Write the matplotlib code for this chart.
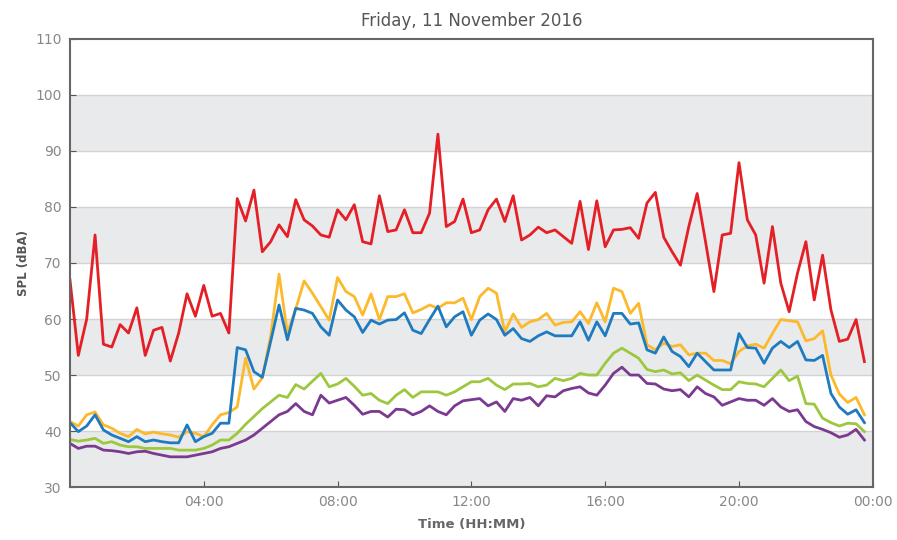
import numpy as np
import matplotlib
matplotlib.use("Agg")
import matplotlib.pyplot as plt

# 15-minute samples, 00:00 .. 23:45
hours = np.arange(96) * 0.25

red = [67, 53.5, 60, 75, 55.5, 55, 59, 57.5, 62, 53.5,
       58, 58.5, 52.5, 57.5, 64.5, 60.5, 66, 60.5, 61, 57.5,
       81.5, 77.5, 83, 72, 73.8, 76.8, 74.7, 81.3, 77.7, 76.6,
       75, 74.6, 79.5, 77.7, 80.4, 73.8, 73.4, 82, 75.6, 75.9,
       79.5, 75.4, 75.4, 78.9, 93, 76.5, 77.4, 81.4, 75.4, 75.9,
       79.5, 81.4, 77.4, 82, 74.1, 75, 76.4, 75.4, 75.9, 74.7,
       73.5, 81, 72.4, 81.1, 72.9, 75.9, 76, 76.3, 74.4, 80.7,
       82.6, 74.6, 72, 69.6, 76.5, 82.4, 73.8, 64.9, 75, 75.3,
       87.9, 77.7, 75, 66.4, 76.5, 66.4, 61.3, 68.2, 73.8, 63.4,
       71.4, 61.6, 56, 56.4, 59.9, 52.4]

yellow = [41.7, 40.9, 42.9, 43.4, 41.1, 40.5, 39.6, 39, 40.3, 39.5,
          39.8, 39.5, 39.3, 38.9, 39.9, 39.6, 39, 41.1, 42.9, 43.3,
          44.3, 53, 47.5, 49.5, 57, 68, 57.5, 61.8, 66.8, 64.6,
          62.2, 59.8, 67.4, 64.9, 64, 60.7, 64.5, 59.9, 64, 64,
          64.5, 61.1, 61.7, 62.5, 61.9, 62.9, 62.9, 63.7, 59.9, 64,
          65.5, 64.6, 57.7, 60.9, 58.5, 59.5, 59.9, 61, 58.9, 59.4,
          59.5, 61.3, 59.2, 62.9, 59.5, 65.5, 64.9, 61, 62.8, 55.4,
          54.5, 55.7, 55.1, 55.4, 53.6, 53.9, 53.9, 52.6, 52.6, 52,
          54.2, 55.2, 55.5, 54.8, 57.4, 59.9, 59.7, 59.5, 56.1, 56.5,
          57.9, 50, 46.6, 45.1, 46, 42.9]

blue = [41.5, 39.9, 40.9, 42.9, 40.2, 39.3, 38.7, 38.1, 39, 38.1,
        38.4, 38.1, 37.9, 37.9, 41.1, 38.1, 39, 39.6, 41.4, 41.4,
        54.9, 54.5, 50.6, 49.6, 56, 62.5, 56.3, 61.9, 61.6, 61,
        58.6, 57.1, 63.4, 61.6, 60.4, 57.6, 59.8, 59.1, 59.8, 59.9,
        61.1, 58, 57.4, 59.9, 62.3, 58.6, 60.4, 61.3, 57.1, 59.8,
        60.9, 59.9, 57.1, 58.3, 56.5, 56, 57, 57.7, 57, 57,
        57, 59.5, 56.2, 59.5, 57, 61, 61, 59.1, 59.3, 54.5,
        53.9, 56.8, 54.2, 53.3, 51.5, 53.9, 52.4, 50.9, 50.9, 50.9,
        57.4, 54.9, 54.8, 52.1, 54.8, 56, 54.9, 56, 52.7, 52.6,
        53.5, 46.7, 44.3, 43, 43.8, 41.5]

green = [38.5, 38.2, 38.4, 38.7, 37.8, 38.1, 37.5, 37.2, 37.2, 36.9,
         36.9, 36.9, 36.9, 36.6, 36.6, 36.6, 36.9, 37.5, 38.4, 38.4,
         39.6, 41.2, 42.6, 44, 45.2, 46.4, 46, 48.3, 47.5, 48.9,
         50.3, 47.9, 48.4, 49.4, 48, 46.4, 46.7, 45.5, 44.9, 46.4,
         47.4, 46, 47, 47, 47, 46.4, 47, 47.9, 48.8, 48.8,
         49.4, 48.2, 47.4, 48.4, 48.4, 48.5, 47.9, 48.2, 49.4, 49,
         49.4, 50.3, 50, 50, 52.1, 53.9, 54.8, 53.9, 53, 51,
         50.6, 50.9, 50.2, 50.4, 49, 50, 49.1, 48.2, 47.4, 47.4,
         48.8, 48.5, 48.4, 47.9, 49.4, 50.9, 49, 49.8, 44.9, 44.8,
         42.3, 41.5, 40.9, 41.4, 41.3, 39.9]

purple = [37.8, 36.9, 37.3, 37.3, 36.6, 36.5, 36.3, 36, 36.3, 36.4,
          36, 35.7, 35.4, 35.4, 35.4, 35.7, 36, 36.3, 36.9, 37.2,
          37.8, 38.4, 39.3, 40.5, 41.7, 42.9, 43.5, 44.9, 43.5, 42.9,
          46.4, 45, 45.5, 46, 44.6, 43, 43.5, 43.5, 42.5, 43.9,
          43.8, 42.9, 43.5, 44.5, 43.5, 42.9, 44.5, 45.4, 45.6, 45.8,
          44.5, 45.2, 43.5, 45.8, 45.5, 46, 44.5, 46.3, 46.1, 47.2,
          47.6, 47.9, 46.8, 46.4, 48.2, 50.3, 51.4, 50, 50, 48.5,
          48.4, 47.5, 47.2, 47.4, 46.1, 47.9, 46.7, 46.1, 44.6, 45.2,
          45.8, 45.5, 45.5, 44.6, 45.8, 44.3, 43.5, 43.8, 41.7, 40.8,
          40.3, 39.7, 38.9, 39.3, 40.3, 38.4]

xticks = [4, 8, 12, 16, 20, 24]
xticklabels = ["04:00", "08:00", "12:00", "16:00", "20:00", "00:00"]
yticks = [30, 40, 50, 60, 70, 80, 90, 100, 110]

fig = plt.figure(figsize=(8.97, 5.40), dpi=100)
ax = fig.add_axes([0.078, 0.098, 0.895, 0.830])

# alternating grey bands
for lo in yticks[:-1:2]:
    ax.axhspan(lo, lo + 10, color="#e9eaec", zorder=0, lw=0)
for y in yticks[1:-1]:
    ax.axhline(y, color="#d2d3d5", lw=1, zorder=0.5)

series = [(red, "#e41f26"), (yellow, "#fdb92c"), (blue, "#1f7bbf"),
          (green, "#9dc83e"), (purple, "#7b3a8f")]
for vals, col in series:
    ax.plot(hours, vals, color=col, lw=2, zorder=2)

ax.set_xlim(0, 24)
ax.set_ylim(30, 110)
ax.set_xticks(xticks)
ax.set_xticklabels(xticklabels)
ax.set_yticks(yticks)
ax.tick_params(direction="in", length=4, colors="#555555", labelcolor="#888888",
               labelsize=10, pad=6)
for s in ax.spines.values():
    s.set_color("#666666")
    s.set_linewidth(1.5)

ax.set_title("Friday, 11 November 2016", color="#555555", fontsize=12, pad=9)
ax.set_xlabel("Time (HH:MM)", fontsize=9.5, fontweight="bold", color="#666666", labelpad=6)
ax.set_ylabel("SPL (dBA)", fontsize=8.5, fontweight="bold", color="#555555", labelpad=4)

fig.savefig("out.png", dpi=100)
